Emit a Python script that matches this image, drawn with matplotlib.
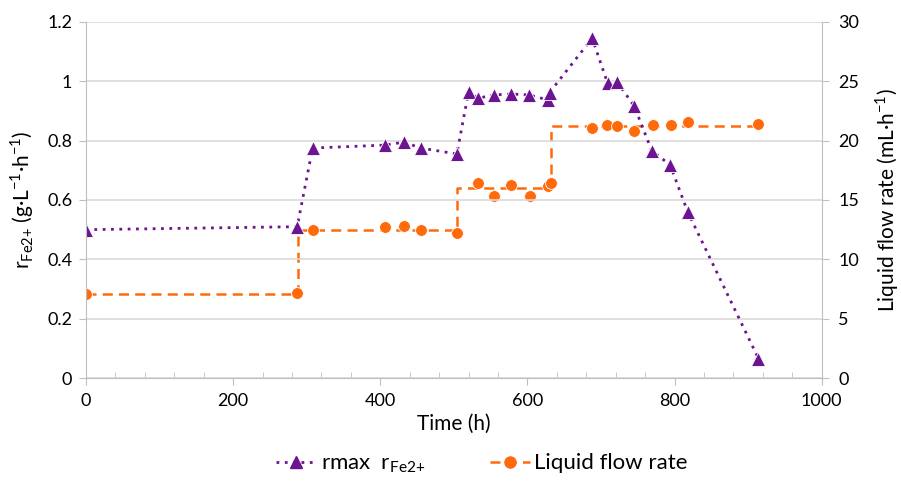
import matplotlib.pyplot as plt
from matplotlib.lines import Line2D
from matplotlib.ticker import MultipleLocator

plt.rcParams["font.family"] = ["Lato", "DejaVu Sans"]
plt.rcParams["mathtext.fontset"] = "custom"
plt.rcParams["mathtext.rm"] = "Lato"

# rmax r_Fe2+ (left axis)
r_time = [0, 287, 308, 407, 432, 455, 504, 520, 533, 555, 578, 602, 628, 630,
          688, 709, 722, 745, 769, 794, 818, 914]
r_fe = [0.50, 0.51, 0.775, 0.785, 0.795, 0.775, 0.755, 0.965, 0.943, 0.954, 0.957,
        0.954, 0.937, 0.962, 1.145, 0.993, 0.997, 0.917, 0.766, 0.718, 0.559, 0.066]

# liquid flow rate measurements (right axis)
q_time = [0, 287, 308, 407, 432, 455, 504, 533, 555, 578, 603, 628, 632,
          688, 708, 722, 745, 770, 795, 818, 913]
q_flow = [7.1, 7.2, 12.5, 12.7, 12.8, 12.5, 12.2, 16.4, 15.3, 16.3, 15.3, 16.2, 16.4,
          21.1, 21.3, 21.25, 20.8, 21.3, 21.3, 21.6, 21.4]

# set-point steps of the flow rate
step_time = [0, 288, 288, 504, 504, 632, 632, 913]
step_flow = [7.05, 7.05, 12.5, 12.5, 16.0, 16.0, 21.2, 21.2]

purple = "#6c1491"
orange = "#ff6a0a"
grid_c = "#d9d9d9"
axis_c = "#bfbfbf"

fig = plt.figure(figsize=(9.01, 4.86), dpi=100)
ax1 = fig.add_axes([0.0955, 0.222, 0.8165, 0.733])
ax2 = ax1.twinx()

ax1.set_zorder(ax2.get_zorder() + 1)
ax1.patch.set_visible(False)

ax2.plot(step_time, step_flow, color=orange, linestyle=(0, (4, 2.5)), linewidth=1.8)
ax2.plot(q_time, q_flow, linestyle="none", marker="o", markersize=8.5,
         color=orange, markeredgecolor="white", markeredgewidth=0.6)

ax1.plot(r_time, r_fe, color=purple, linestyle=(0, (1, 2)), linewidth=2,
         marker="^", markersize=9.5, markeredgecolor="white", markeredgewidth=0.6)

ax1.set_xlim(0, 1000)
ax1.set_ylim(0, 1.2)
ax2.set_ylim(0, 30)
ax1.xaxis.set_major_locator(MultipleLocator(200))
ax1.xaxis.set_minor_locator(MultipleLocator(40))
ax2.yaxis.set_major_locator(MultipleLocator(5))
ax1.set_yticks([0, 0.2, 0.4, 0.6, 0.8, 1.0, 1.2])
ax1.set_yticklabels(["0", "0.2", "0.4", "0.6", "0.8", "1", "1.2"])

ax1.grid(axis="y", color=grid_c, linewidth=1.2)
ax1.set_axisbelow(True)

for ax in (ax1, ax2):
    for s in ax.spines.values():
        s.set_visible(False)
ax1.spines["left"].set_visible(True)
ax1.spines["left"].set_color(axis_c)
ax1.spines["bottom"].set_visible(True)
ax1.spines["bottom"].set_color(axis_c)
ax2.spines["right"].set_visible(True)
ax2.spines["right"].set_color(axis_c)

ax1.tick_params(axis="x", which="major", direction="out", length=5, color=axis_c,
                labelsize=13, pad=6)
ax1.tick_params(axis="x", which="minor", direction="in", length=4, color=axis_c)
ax1.tick_params(axis="y", length=5, color=axis_c, labelsize=13, pad=5)
ax2.tick_params(axis="y", length=5, color=axis_c, labelsize=13, pad=7)

ax1.set_xlabel("Time (h)", fontsize=15, labelpad=3)
ax1.set_ylabel(r"r$_{\mathregular{Fe2{+}}}$ (g·L$^{\mathregular{-1}}$·h$^{\mathregular{-1}}$)",
               fontsize=15, labelpad=8)
ax2.set_ylabel(r"Liquid flow rate (mL·h$^{\mathregular{-1}}$)", fontsize=15, labelpad=10)

handles = [
    Line2D([], [], color=purple, linestyle=(0, (1, 2)), linewidth=2, marker="^",
           markersize=9),
    Line2D([], [], color=orange, linestyle=(0, (4, 2.5)), linewidth=1.8, marker="o",
           markersize=8),
]
labels = [r"rmax  r$_{\mathregular{Fe2{+}}}$", "Liquid flow rate"]
fig.legend(handles, labels, loc="center", bbox_to_anchor=(0.535, 0.045), ncol=2,
           frameon=False, fontsize=16, columnspacing=2.9, handlelength=1.8,
           handletextpad=0.2)

fig.savefig("out.png", dpi=100)
